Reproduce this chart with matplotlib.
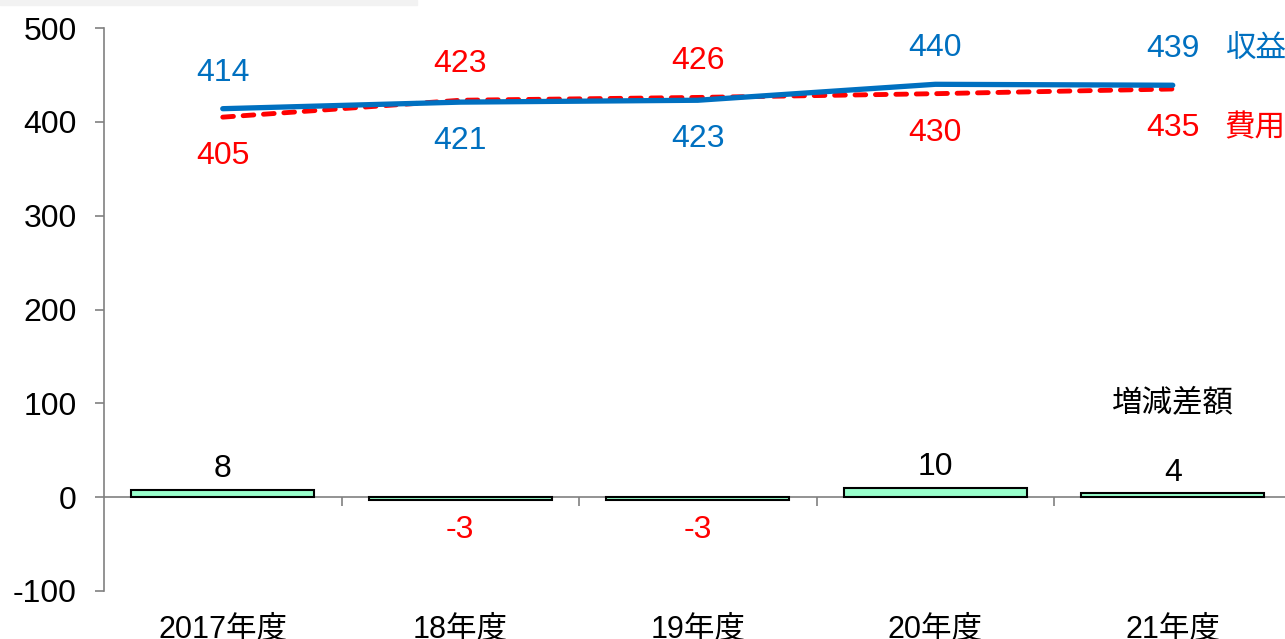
import matplotlib
matplotlib.use("Agg")
import matplotlib.pyplot as plt
from matplotlib.patches import Rectangle

# データ
years = ["2017年度", "18年度", "19年度", "20年度", "21年度"]
revenue = [414, 421, 423, 440, 439]   # 収益
expense = [405, 423, 426, 430, 435]   # 費用
diff = [8, -3, -3, 10, 4]             # 増減差額

plt.rcParams["font.family"] = ["Liberation Sans", "Noto Sans CJK JP", "DejaVu Sans"]
plt.rcParams["axes.unicode_minus"] = False

BLUE = "#0070C0"
RED = "#FF0000"
GRAY = "#808080"
FS = 23

fig = plt.figure(figsize=(12.85, 6.39), dpi=100)
ax = fig.add_axes([104 / 1285, 1 - 591 / 639, 1187.5 / 1285, 563 / 639])

# 上端の灰色帯
fig.patches.append(Rectangle((0, 1 - 5 / 639), 417 / 1285, 5 / 639,
                             transform=fig.transFigure, color="#f2f2f2", zorder=0))

x = list(range(len(years)))

# 増減差額の棒
ax.bar(x, diff, width=0.77, color="#99FFCC", edgecolor="black", linewidth=1.5, zorder=2)
for xi, v in zip(x, diff):
    if v >= 0:
        ax.annotate(str(v), (xi, v), xytext=(0, 4), textcoords="offset points",
                    ha="center", va="bottom", fontsize=FS, color="black")
    else:
        ax.annotate(str(v), (xi, v), xytext=(0, -11), textcoords="offset points",
                    ha="center", va="top", fontsize=FS, color=RED)

# 折れ線
ax.plot(x, revenue, color=BLUE, linewidth=3.8, solid_capstyle="round", zorder=4)
ax.plot(x, expense, color=RED, linewidth=3.5, dashes=(2.2, 2.0),
        dash_capstyle="round", zorder=3)

for xi, r, e in zip(x, revenue, expense):
    r_up = r >= e
    ax.annotate(str(r), (xi, r), xytext=(0, 26 if r_up else -28), textcoords="offset points",
                ha="center", va="center", fontsize=FS, color=BLUE)
    ax.annotate(str(e), (xi, e), xytext=(0, 26 if not r_up else -28), textcoords="offset points",
                ha="center", va="center", fontsize=FS, color=RED)

# 系列名
ax.annotate("収益", (x[-1], revenue[-1]), xytext=(38, 26), textcoords="offset points",
            ha="left", va="center", fontsize=FS - 1, color=BLUE)
ax.annotate("費用", (x[-1], expense[-1]), xytext=(37, -28), textcoords="offset points",
            ha="left", va="center", fontsize=FS - 1, color=RED)
ax.text(x[-1], 100, "増減差額", ha="center", va="center", fontsize=FS - 1, color="black")

# 軸
ax.set_xlim(-0.5, len(years) - 0.5)
ax.set_ylim(-100, 500)
ax.set_yticks(range(-100, 501, 100))
ax.tick_params(axis="y", labelsize=FS, length=6.5, width=1.2, color=GRAY, pad=13)

for s in ["top", "right"]:
    ax.spines[s].set_visible(False)
ax.spines["left"].set_color(GRAY)
ax.spines["left"].set_linewidth(1.2)
ax.spines["bottom"].set_position(("data", 0))
ax.spines["bottom"].set_color(GRAY)
ax.spines["bottom"].set_linewidth(1.2)
ax.spines["bottom"].set_zorder(1)
ax.set_xticks([i + 0.5 for i in x[:-1]])
ax.set_xticklabels([])
ax.tick_params(axis="x", length=6.5, width=1.2, color=GRAY)

sec = ax.secondary_xaxis(0.0)
sec.set_xticks(x)
sec.set_xticklabels(years)
sec.tick_params(length=0, labelsize=FS - 1, pad=17)
sec.spines["bottom"].set_visible(False)

fig.savefig("out.png", dpi=100)
